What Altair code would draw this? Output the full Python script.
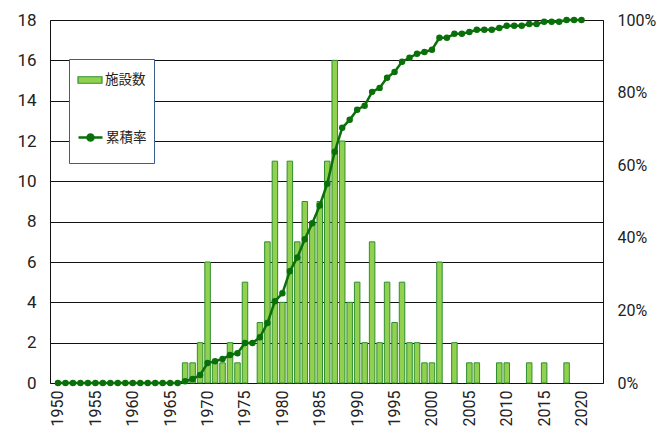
import altair as alt
import pandas as pd

years = list(range(1950, 2021))

counts = [0] * 17 + [
    1, 1, 2, 6, 1, 1, 2, 1, 5, 0,       # 1967-1976
    3, 7, 11, 4, 11, 7, 9, 8, 9, 11,    # 1977-1986
    16, 12, 4, 5, 2, 7, 2, 5, 3, 5,     # 1987-1996
    2, 2, 1, 1, 6, 0, 2, 0, 1, 1,       # 1997-2006
    0, 0, 1, 1, 0, 0, 1, 0, 1, 0,       # 2007-2016
    0, 1, 0, 0,                         # 2017-2020
]

rates = [0] * 17 + [
    0.5, 1.1, 2.2, 5.5, 6.0, 6.6, 7.7, 8.2, 11.0, 11.0,
    12.6, 16.5, 22.5, 24.7, 30.8, 34.6, 39.6, 44.0, 48.9, 54.9,
    63.7, 70.3, 72.5, 75.3, 76.4, 80.2, 81.3, 84.1, 85.7, 88.5,
    89.6, 90.7, 91.2, 91.8, 95.1, 95.1, 96.2, 96.2, 96.7, 97.3,
    97.3, 97.3, 97.8, 98.4, 98.4, 98.4, 98.9, 98.9, 99.5, 99.5,
    99.5, 100, 100, 100,
]

bar_name = "施設数"
line_name = "累積率"
x_ticks = [1950, 1955, 1960, 1965, 1970, 1975, 1980, 1985, 1990, 1995, 2000, 2005, 2010, 2015, 2020]
left_ticks = [0, 2, 4, 6, 8, 10, 12, 14, 16, 18]
right_ticks = [0, 20, 40, 60, 80, 100]

df = pd.DataFrame({"year": years, "count": counts, "rate": rates})

FONT = "Noto Sans CJK JP"
AXFONT = "Roboto"
BAR_FILL = "#92D050"
BAR_STROKE = "#2F8F2F"
LINE_COL = "#0A700A"
TXT = "#222222"

xscale = alt.Scale(domain=[1949.6, 2022.2], nice=False, zero=False)
xaxis = alt.Axis(values=x_ticks, format="d", labelAngle=-90, ticks=False, domain=False,
                 grid=False, labelPadding=7, labelFontSize=16, labelFont=AXFONT,
                 labelColor=TXT, labelOverlap=False, title=None)

legend_bar = alt.Legend(
    title=" ", titleOrient="bottom", titleFontSize=8, titlePadding=60,
    orient="none", legendX=19, legendY=39,
    strokeColor="#3A5F8A", fillColor="white", padding=8,
    symbolType="M-1,-0.27L1,-0.27L1,0.27L-1,0.27Z", symbolSize=576,
    symbolStrokeColor=BAR_STROKE, symbolStrokeWidth=1.2, symbolOpacity=1,
    labelFontSize=13.5, labelFont=FONT, labelColor=TXT, labelOffset=2, zindex=1,
)

legend_line = alt.Legend(
    title=None, orient="none", legendX=27, legendY=104, padding=0,
    symbolType="M-1,0L1,0M0.25,0A0.25,0.25,0,1,1,-0.25,0A0.25,0.25,0,1,1,0.25,0Z",
    symbolSize=576, symbolFillColor=LINE_COL, symbolStrokeColor=LINE_COL,
    symbolStrokeWidth=2.5, symbolOpacity=1,
    labelFontSize=13.5, labelFont=FONT, labelColor=TXT, labelOffset=2, zindex=2,
)

base = alt.Chart(df)

bars = base.transform_filter("datum.count > 0").transform_calculate(series="'施設数'").mark_bar(
    size=5.5, stroke=BAR_STROKE, strokeWidth=1, opacity=1
).encode(
    x=alt.X("year:Q", scale=xscale, axis=xaxis),
    y=alt.Y("count:Q", scale=alt.Scale(domain=[0, 18], nice=False),
            axis=alt.Axis(values=left_ticks, grid=True, gridColor="#111", gridWidth=1,
                          ticks=False, domain=False, labelPadding=14, labelFontSize=17,
                          labelFont=AXFONT, labelColor=TXT, title=None)),
    fill=alt.Fill("series:N", scale=alt.Scale(domain=[bar_name], range=[BAR_FILL]), legend=legend_bar),
)

line = base.transform_calculate(series="'累積率'").mark_line(
    strokeWidth=2.5, color=LINE_COL,
    point=alt.OverlayMarkDef(filled=True, size=20, opacity=1, fill=LINE_COL, color=LINE_COL),
).encode(
    x=alt.X("year:Q", scale=xscale, axis=xaxis),
    y=alt.Y("rate:Q", scale=alt.Scale(domain=[0, 100], nice=False),
            axis=alt.Axis(orient="right", values=right_ticks, labelExpr="datum.value + '%'",
                          grid=False, ticks=False, domain=False, labelPadding=14,
                          labelFontSize=16, labelFont=AXFONT, labelColor=TXT, title=None)),
    stroke=alt.Stroke("series:N", scale=alt.Scale(domain=[line_name], range=[LINE_COL]), legend=legend_line),
)

chart = alt.layer(bars, line).resolve_scale(y="independent").properties(
    width=553, height=363,
    autosize=alt.AutoSizeParams(type="none"),
    padding={"left": 42, "top": 12, "right": 54, "bottom": 44},
).configure(font=FONT).configure_view(stroke="#111", strokeWidth=1)

chart.save("out.html", embed_options={"renderer": "svg", "actions": False})
